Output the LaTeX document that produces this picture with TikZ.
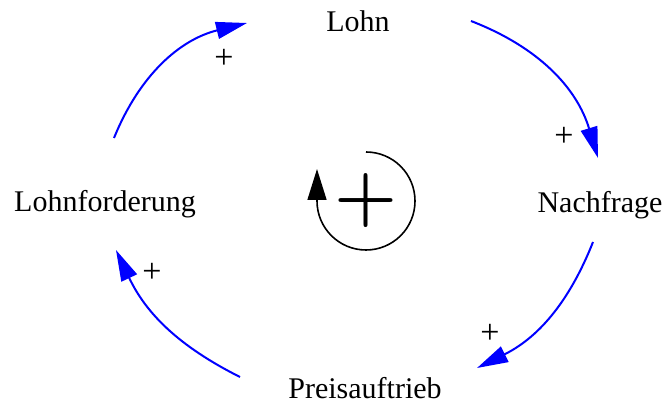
\documentclass[tikz,border=0pt]{standalone}
\usepackage{fontspec}
\newfontfamily\labelfont{Liberation Serif}
\usetikzlibrary{arrows.meta}
\begin{document}
\begin{tikzpicture}
    [x=0.5pt,y=0.5pt,
    var/.style={font=\labelfont\fontsize{15}{18}\selectfont, anchor=base, inner sep=0pt},
    sign/.style={font=\labelfont\fontsize{17}{20}\selectfont, inner sep=0pt},
    link/.style={blue, line width=1pt, -{Triangle[length=15.5pt,width=8.5pt]}}]
    \useasboundingbox (0,0) rectangle (667,406);
    %variables
    \node[var] (lohn) at (358,374) {Lohn};
    \node[var] (nachfrage) at (600,193) {Nachfrage};
    \node[var] (preis) at (365,8) {Preisauftrieb};
    \node[var] (forderung) at (105,194) {Lohnforderung};
    %ends of the links
    \coordinate (a1s) at (114,268);
    \coordinate (a1e) at (247,383);
    \coordinate (a2s) at (471,385);
    \coordinate (a2e) at (598,248);
    \coordinate (a3s) at (593,164);
    \coordinate (a3e) at (477,38);
    \coordinate (a4s) at (240,29);
    \coordinate (a4e) at (116,156);
    %links
    \draw[link] (a1s) to[bend left=27] (a1e);
    \draw[link] (a2s) to[bend left=26] (a2e);
    \draw[link] (a3s) to[bend left=21] (a3e);
    \draw[link] (a4s) to[bend left=19] (a4e);
    %polarities
    \node[sign] (s1) at (224,347) {+};
    \node[sign] (s2) at (564,269) {+};
    \node[sign] (s3) at (490,72) {+};
    \node[sign] (s4) at (152,133) {+};
    %loop
    \coordinate (loop) at (366,205);
    \draw[line width=0.8pt, -{Triangle[length=15.5pt,width=9.5pt]}]
    (loop) ++(0,49) arc[start angle=90, end angle=-180, radius=24.5pt] -- ++(0,32);
    \node[inner sep=0pt] (looptype) at (loop) {\fontsize{36}{36}\selectfont\bfseries +};
\end{tikzpicture}
\end{document}
